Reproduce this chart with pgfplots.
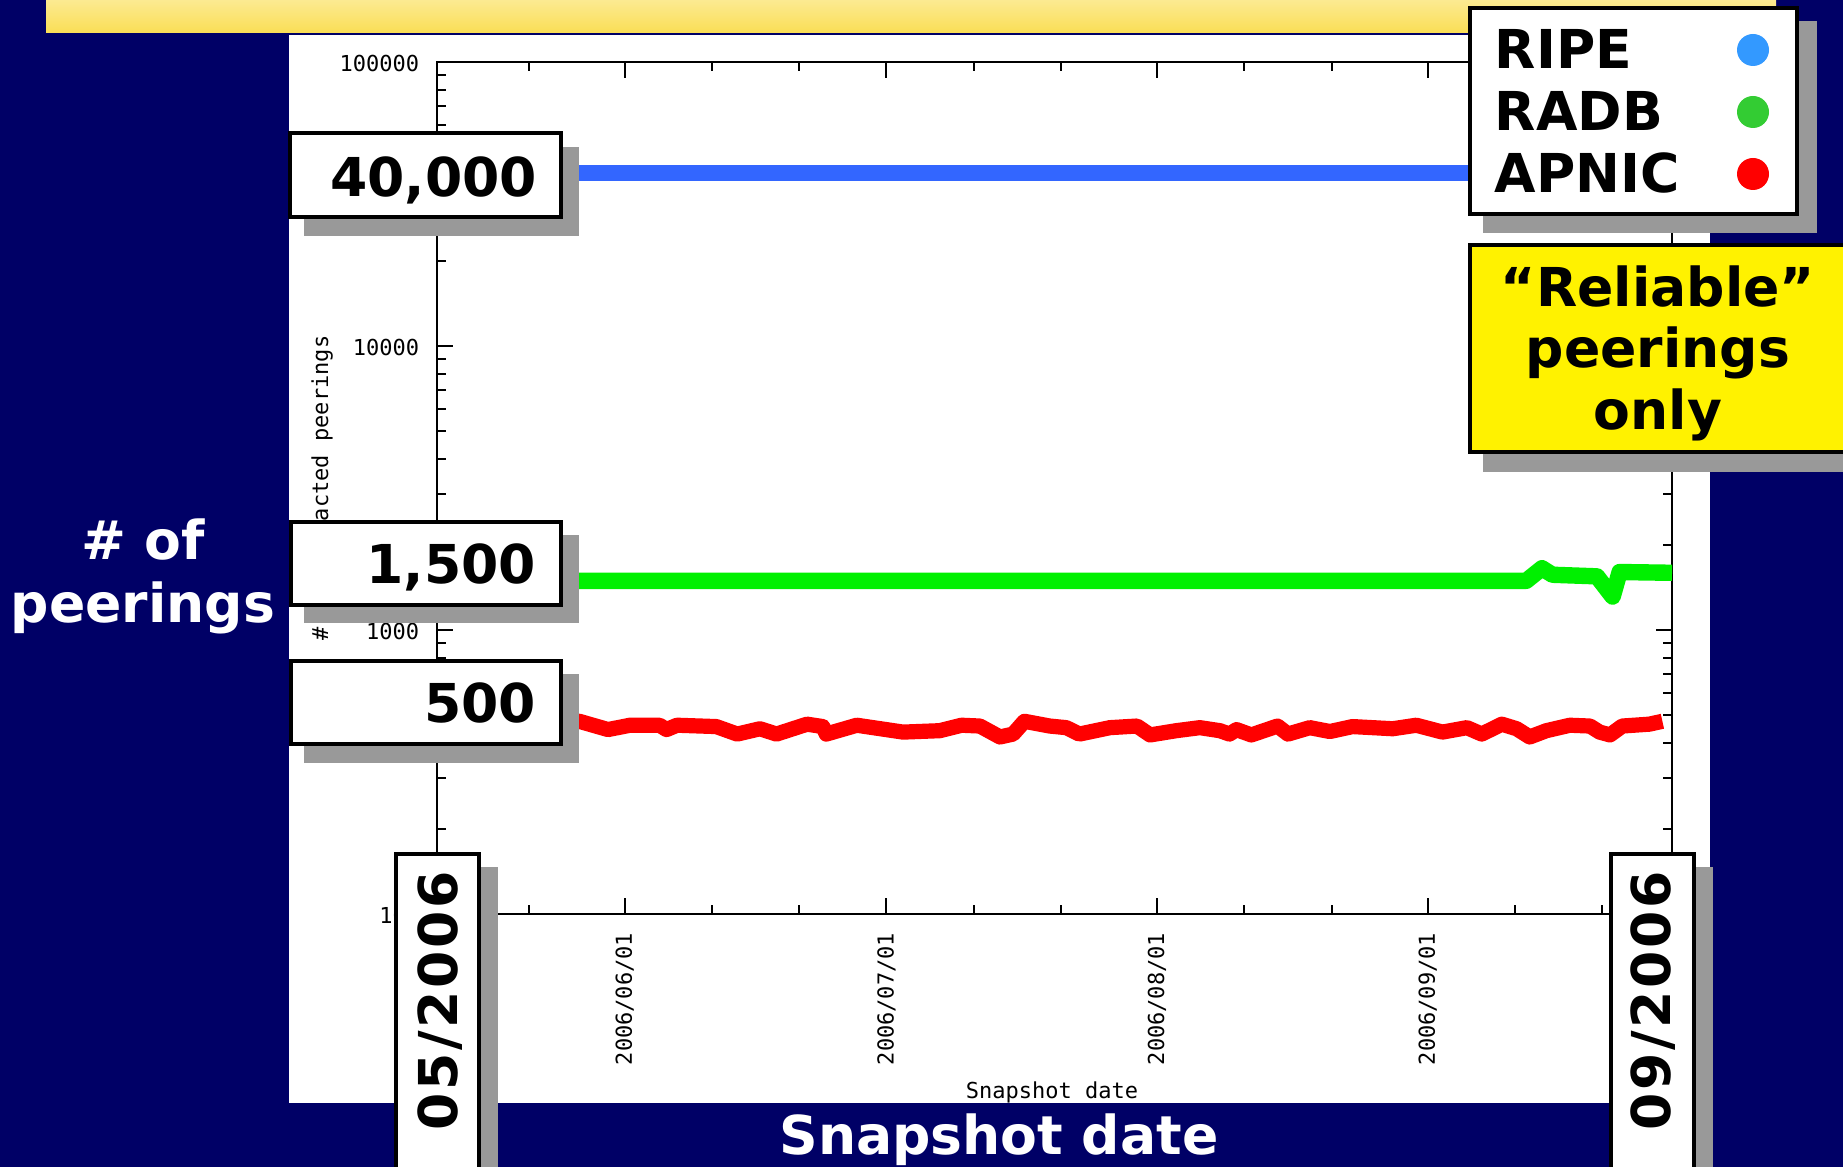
\documentclass[border=0pt]{standalone}
\usepackage{fontspec}
\usepackage{pgfplots}
\pgfplotsset{compat=1.18}
\newfontfamily\vb{DejaVu Sans}
\newfontfamily\vbw{DejaVu Sans}[LetterSpace=5]
\newfontfamily\gm{DejaVu Sans Mono}
\definecolor{navy}{HTML}{000066}
\definecolor{shadowgray}{HTML}{999999}
\definecolor{ripeline}{HTML}{3366FF}
\definecolor{radbline}{HTML}{00F000}
\definecolor{apnicline}{HTML}{FF0000}
\definecolor{ripedot}{HTML}{3399FF}
\definecolor{radbdot}{HTML}{33CC33}
\definecolor{ybarA}{RGB}{252,234,145}
\definecolor{ybarB}{RGB}{250,222,85}
\newcommand{\bigfont}{\vb\bfseries\fontsize{13.4}{15.5}\selectfont}
\newcommand{\bigwfont}{\vbw\bfseries\fontsize{13.4}{15.5}\selectfont}
\newcommand{\gpfont}{\gm\fontsize{5.5}{6.6}\selectfont}
\begin{document}
\begin{tikzpicture}
\path[use as bounding box] (0,0) rectangle (460.75pt,291.75pt);
\clip (0,0) rectangle (460.75pt,291.75pt);
\begin{scope}[x=0.25pt,y=0.25pt]
\fill[navy] (0,0) rectangle (1843,1167);
\shade[top color=ybarA,bottom color=ybarB] (46,1134) rectangle (1776,1167);
\fill[white] (289,64) rectangle (1710,1132);
\end{scope}
\begin{axis}[
  at={(109.25pt,63.25pt)}, anchor=south west,
  scale only axis, width=308.75pt, height=213pt,
  ymode=log, ymin=100, ymax=100000,
  xmin=-21.5, xmax=120,
  xtick={0,30,61,92},
  xticklabels={2006/06/01,2006/07/01,2006/08/01,2006/09/01},
  minor xtick={-11,10,20,40,50,71,81,102,112},
  ytick={100,1000,10000,100000},
  yticklabels={100,1000,10000,100000},
  minor ytick={200,300,400,500,600,700,800,900,2000,3000,4000,5000,6000,7000,8000,9000,20000,30000,40000,50000,60000,70000,80000,90000},
  /pgf/number format/assume math mode=true,
  tick align=inside,
  every tick/.style={black, line width=0.5pt},
  major tick length=4pt, minor tick length=2.2pt,
  axis line style={black, line width=0.5pt},
  xticklabel style={font=\gpfont, yshift=-4.5pt, rotate=90, anchor=east, inner sep=0pt},
  yticklabel style={font=\gpfont, anchor=east, inner sep=0pt, xshift=-4.25pt, yshift=-0.3pt},
  xlabel={Snapshot date}, ylabel={\# of extracted peerings},
  label style={font=\gpfont},
  xlabel style={at={(axis description cs:0.498,-0.2165)}, anchor=base},
  ylabel style={at={(axis description cs:-0.0931,0.5)}, anchor=center},
]
\addplot[ripeline, line width=4pt, line join=round] coordinates {(-16,40780) (120,40780)};
\addplot[radbline, line width=4.1pt, line join=round] coordinates {
(-16,1490) (103.3,1490) (105.1,1650) (106.3,1565) (111.4,1545) (113.2,1310) (114.0,1600) (120,1590)};
\addplot[apnicline, line width=3.8pt, line join=round] coordinates {
(-16,470) (-5.2,477) (-1.9,446) (0.6,462) (4.0,462) (4.8,446) (6.0,462) (10.5,457) (12.9,430) (15.5,449) (17.4,430) (20.9,466) (22.7,457) (23.1,430) (26.6,462) (31.9,437) (36.1,442) (38.6,462) (40.7,459) (43.0,420) (44.5,430) (45.8,477) (48.7,459) (50.6,453) (52.1,430) (55.6,453) (58.7,459) (60.2,427) (63.2,442) (65.9,453) (68.2,442) (69.3,430) (70.1,446) (71.8,427) (74.8,459) (76.0,430) (78.5,453) (80.8,439) (83.4,457) (88.0,449) (90.7,462) (93.7,437) (96.5,453) (98.2,430) (100.5,466) (102.2,449) (103.7,420) (105.6,442) (108.3,462) (110.6,459) (111.7,437) (112.9,427) (114.3,459) (117.4,466) (118.9,477)};
\end{axis}
\begin{scope}[x=0.25pt,y=0.25pt]
% value callouts
\fill[shadowgray] (304,931) rectangle (579,1020);
\draw[line width=1pt, fill=white] (290,950) rectangle (561,1034);
\node[anchor=base east, inner sep=0pt, font=\bigfont] at (538,970) {40,000};
\fill[shadowgray] (304,544) rectangle (579,632);
\draw[line width=1pt, fill=white] (291,562) rectangle (561,645);
\node[anchor=base east, inner sep=0pt, font=\bigfont] at (537,583) {1,500};
\fill[shadowgray] (304,404) rectangle (579,493);
\draw[line width=1pt, fill=white] (291,423) rectangle (561,506);
\node[anchor=base east, inner sep=0pt, font=\bigfont] at (537,444) {500};
% date callouts
\fill[shadowgray] (409,-13) rectangle (498,300);
\draw[line width=1pt, fill=white] (396,-10) rectangle (479,313);
\node[rotate=90, inner sep=0pt, font=\bigwfont] at (440,166) {05/2006};
\fill[shadowgray] (1624,-13) rectangle (1713,300);
\draw[line width=1pt, fill=white] (1611,-10) rectangle (1694,313);
\node[rotate=90, inner sep=0pt, font=\bigwfont] at (1653,166) {09/2006};
% legend
\fill[shadowgray] (1483,934) rectangle (1817,1146);
\draw[line width=1pt, fill=white] (1470,953) rectangle (1797,1159);
\node[anchor=base west, inner sep=0pt, font=\bigfont] at (1494,1098) {RIPE};
\node[anchor=base west, inner sep=0pt, font=\bigfont] at (1494,1036) {RADB};
\node[anchor=base west, inner sep=0pt, font=\bigfont] at (1494,974) {APNIC};
\fill[ripedot] (1753,1117) circle (16);
\fill[radbdot] (1753,1055) circle (16);
\fill[apnicline] (1753,993) circle (16);
% reliable box
\fill[shadowgray] (1483,695) rectangle (1870,909);
\draw[line width=1pt, fill=yellow] (1470,715) rectangle (1870,922);
\node[anchor=base, inner sep=0pt, font=\bigfont] at (1658,860) {“Reliable”};
\node[anchor=base, inner sep=0pt, font=\bigfont] at (1658,799) {peerings};
\node[anchor=base, inner sep=0pt, font=\bigfont] at (1658,737) {only};
% slide labels
\node[anchor=base, inner sep=0pt, font=\bigfont, text=white] at (143,607) {\# of};
\node[anchor=base, inner sep=0pt, font=\bigfont, text=white] at (143,544) {peerings};
\node[anchor=base, inner sep=0pt, font=\bigfont, text=white] at (999,12) {Snapshot date};
\end{scope}
\end{tikzpicture}
\end{document}
